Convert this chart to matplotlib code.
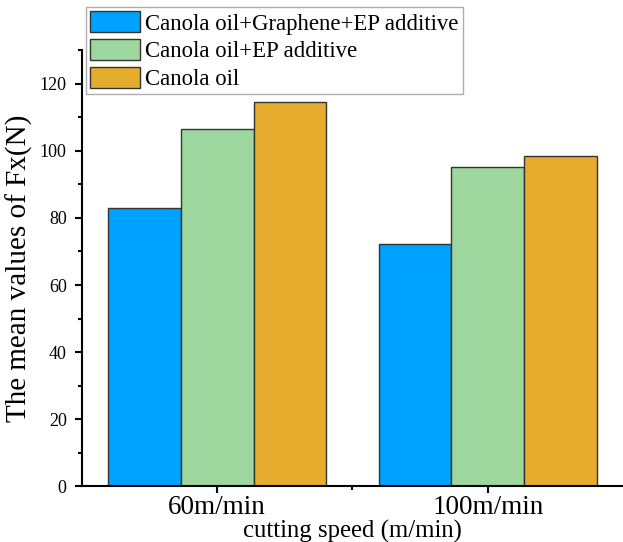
import numpy as np
import matplotlib.pyplot as plt
from matplotlib.ticker import MultipleLocator, FixedLocator

plt.rcParams['font.family'] = ['Liberation Serif', 'DejaVu Serif']

# data
speeds = ["60m/min", "100m/min"]
series = ["Canola oil+Graphene+EP additive", "Canola oil+EP additive", "Canola oil"]
fx_graphene_ep = [83.0, 72.2]
fx_ep = [106.4, 95.1]
fx_canola = [114.4, 98.3]

values = [fx_graphene_ep, fx_ep, fx_canola]
colors = ["#00A2FF", "#9DD79D", "#E5AC2D"]

fig = plt.figure(figsize=(6.23, 5.42), dpi=100)
ax = fig.add_axes([0.1316, 0.1024, 0.8684, 0.8053])

x = np.arange(len(speeds))
width = 0.2686
for i, (vals, name, c) in enumerate(zip(values, series, colors)):
    ax.bar(x + (i - 1) * width, vals, width, color=c, edgecolor="#333333",
           linewidth=1.0, label=name)

ax.set_xlim(-0.5, 1.5)
ax.set_ylim(0, 130)

ax.spines['top'].set_visible(False)
ax.spines['right'].set_visible(False)
ax.spines['left'].set_linewidth(1.5)
ax.spines['bottom'].set_linewidth(1.5)

ax.set_xticks(x)
ax.set_xticklabels(speeds, fontsize=19.5)
ax.xaxis.set_minor_locator(FixedLocator([0.5]))
ax.yaxis.set_major_locator(MultipleLocator(20))
ax.yaxis.set_minor_locator(MultipleLocator(10))
ax.tick_params(axis='y', which='major', labelsize=13, length=5, width=1.5, pad=6)
ax.tick_params(axis='y', which='minor', length=3, width=1.5)
ax.tick_params(axis='x', which='major', length=5, width=1.5, pad=1)
ax.tick_params(axis='x', which='minor', length=3, width=1.5)

ax.set_ylabel("The mean values of Fx(N)", fontsize=21)
ax.yaxis.set_label_coords(-0.09, 0.5)
ax.set_xlabel("cutting speed (m/min)", fontsize=17.8)
ax.xaxis.set_label_coords(0.5, -0.077)

leg = fig.legend(loc='upper left', bbox_to_anchor=(0.138, 0.9865), fontsize=16.4,
                 frameon=True, fancybox=False, edgecolor="#999999",
                 handlelength=2.18, handleheight=1.05, handletextpad=0.26,
                 labelspacing=0.2, borderpad=0.17, borderaxespad=0)
leg.get_frame().set_linewidth(1.0)

plt.savefig("out.png", dpi=100)
